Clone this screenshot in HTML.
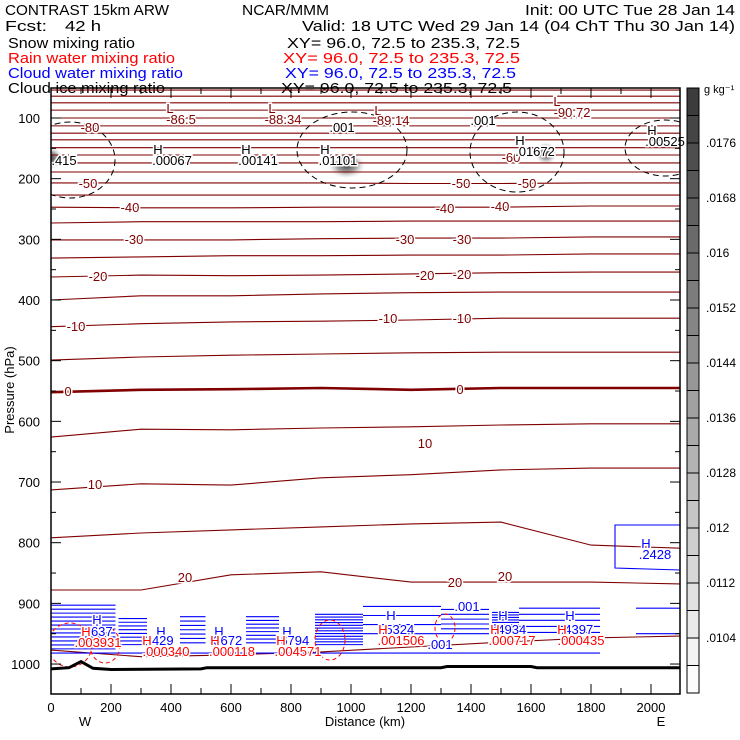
<!DOCTYPE html>
<html><head><meta charset="utf-8"><style>
html,body{margin:0;padding:0;background:#fff}
svg{display:block;font-family:"Liberation Sans",sans-serif}
#labels text{paint-order:stroke;stroke:#fff;stroke-width:3px}
</style></head><body>
<svg id="chart" width="740" height="740" viewBox="0 0 740 740">
<defs>
<radialGradient id="blob"><stop offset="0" stop-color="#333" stop-opacity="0.95"/><stop offset="0.5" stop-color="#666" stop-opacity="0.6"/><stop offset="1" stop-color="#fff" stop-opacity="0"/></radialGradient>
<clipPath id="plotclip"><rect x="51" y="88" width="629" height="606"/></clipPath>
</defs>
<g font-size="15">
<text x="5" y="15" textLength="164" lengthAdjust="spacingAndGlyphs">CONTRAST 15km ARW</text>
<text x="242" y="15" textLength="87" lengthAdjust="spacingAndGlyphs">NCAR/MMM</text>
<text x="525" y="15" textLength="210" lengthAdjust="spacingAndGlyphs">Init: 00 UTC Tue 28 Jan 14</text>
<text x="5" y="31" textLength="42" lengthAdjust="spacingAndGlyphs">Fcst:</text>
<text x="65" y="31" textLength="36" lengthAdjust="spacingAndGlyphs">42 h</text>
<text x="302" y="31" textLength="433" lengthAdjust="spacingAndGlyphs">Valid: 18 UTC Wed 29 Jan 14 (04 ChT Thu 30 Jan 14)</text>
<text x="8" y="48" textLength="127" lengthAdjust="spacingAndGlyphs">Snow mixing ratio</text>
<text x="287" y="48" textLength="233" lengthAdjust="spacingAndGlyphs">XY=  96.0, 72.5 to 235.3, 72.5</text>
<text x="8" y="63" textLength="167" lengthAdjust="spacingAndGlyphs" fill="#f00">Rain water mixing ratio</text>
<text x="283" y="63" textLength="237" lengthAdjust="spacingAndGlyphs" fill="#f00">XY=  96.0, 72.5 to 235.3, 72.5</text>
<text x="8" y="78" textLength="175" lengthAdjust="spacingAndGlyphs" fill="#00f">Cloud water mixing ratio</text>
<text x="285" y="78" textLength="231" lengthAdjust="spacingAndGlyphs" fill="#00f">XY=  96.0, 72.5 to 235.3, 72.5</text>
<text x="8" y="93" textLength="157" lengthAdjust="spacingAndGlyphs">Cloud ice mixing ratio</text>
<text x="281" y="93" textLength="231" lengthAdjust="spacingAndGlyphs">XY=  96.0, 72.5 to 235.3, 72.5</text>
</g>
<g id="plot" clip-path="url(#plotclip)"></g>
<g id="labels" font-size="13" text-anchor="middle"></g>
<g id="axes"></g>
<g id="cbar"></g>
</svg>
<script>
// ---- data ----
const xNodes = [0, 300, 600, 900, 1200, 1500, 1800, 2097];
const tempLevels = [25, 20, 15, 10, 5, 0, -5, -10, -15, -20, -25, -30, -35, -40, -45, -50];
const tempP = [
 [977,988,985,980,972,964,957,954],
 [878,878,853,848,865,865,865,868],
 [792,784,779,774,769,766,804,809],
 [713,703,705,693,688,680,677,677],
 [626,613,614,611,609,606,604,604],
 [552,548,547,545,548,545,545,545],
 [499,494,491,489,487,486,486,486],
 [444,439,436,435,433,430,430,430],
 [400,393,393,390,388,387,387,387],
 [362,359,360,359,357,355,354,354],
 [331,329,327,327,326,326,324,324],
 [301,301,301,299,298,298,296,296],
 [273,271,271,271,270,270,270,270],
 [247,248,248,247,247,247,245,245],
 [227,227,227,227,227,227,227,227],
 [207,207,207,207,208,208,207,207]
];
const stratP = [189,174,161,149,136,125,113,100,87,75,64,54];
const terrainKm = [0, 60, 100, 140, 200, 500, 520, 1300, 1320, 1600, 1620, 2097];
const terrainP = [1008, 1006, 996, 1007, 1009, 1008, 1006, 1006, 1004, 1004, 1006, 1006];
// cloud water blocks: start km, end km, top p, bottom p, number of lines
const cwStart = [0, 225, 430, 650, 880, 1040, 1300, 1470, 1560, 1950];
const cwEnd   = [215, 320, 515, 760, 1040, 1300, 1460, 1560, 1830, 2097];
const cwTop   = [903, 925, 922, 922, 918, 905, 910, 915, 908, 908];
const cwBot   = [975, 968, 965, 965, 968, 950, 950, 948, 948, 950];
const cwCount = [12, 8, 7, 8, 12, 4, 6, 9, 5, 2];
// snow maxima (km, hPa)
const snowKm = [0, 985, 1650];
const snowP = [166, 178, 158];
const cbarTicks = [".0176", ".0168", ".016", ".0152", ".0144", ".0136", ".0128", ".012", ".0112", ".0104"];
const pTicks = [100,200,300,400,500,600,700,800,900,1000];
const xTicks = [0,200,400,600,800,1000,1200,1400,1600,1800,2000];

// ---- scales ----
const X = km => 51 + km * 0.3;
const Y = p => 118 + (p - 100) * 0.6067;
const NS = "http://www.w3.org/2000/svg";
function mk(parent, tag, attrs, text){
  const e = document.createElementNS(NS, tag);
  for (const k in attrs) e.setAttribute(k, attrs[k]);
  if (text !== undefined) e.textContent = text;
  parent.appendChild(e); return e;
}
const plot = document.getElementById('plot');
const labels = document.getElementById('labels');
const axes = document.getElementById('axes');
const cbar = document.getElementById('cbar');

snowKm.forEach((k,i)=>{
  const e = mk(plot,'ellipse',{cx:X(k),cy:Y(snowP[i]),rx:k===985?20:12,ry:k===985?14:12,fill:'url(#blob)'});
  
  
});

tempLevels.forEach((lv,i)=>{
  const d = xNodes.map((k,j)=>(j?'L':'M')+X(k).toFixed(1)+','+Y(tempP[i][j]).toFixed(1)).join(' ');
  const e = mk(plot,'path',{d:d,fill:'none',stroke:'#800000','stroke-width':lv===0?2.6:1.1});
  
  
});
stratP.forEach(p=>{
  const e = mk(plot,'line',{x1:51,x2:680,y1:Y(p),y2:Y(p),stroke:'#800000','stroke-width':1.1});
  
  
});

cwStart.forEach((s,i)=>{
  const n = cwCount[i];
  for(let j=0;j<n;j++){
    const p = cwTop[i] + (cwBot[i]-cwTop[i]) * (n===1?0.5:j/(n-1));
    const e = mk(plot,'line',{x1:X(s),x2:X(cwEnd[i]),y1:Y(p),y2:Y(p),stroke:'#00f','stroke-width':1.1});
    
    
  }
});
{
  const e = mk(plot,'line',{x1:X(0),x2:X(1830),y1:Y(982),y2:Y(982),stroke:'#00f','stroke-width':1.1});
  
  
  const b = mk(plot,'path',{d:'M680,525 L615,525 L615,568 L680,570',fill:'none',stroke:'#00f','stroke-width':1.1});
  
  
}
[[70,160,45,38],[352,150,55,38],[517,152,47,40],[665,148,40,28]].forEach(c=>{
  const e = mk(plot,'ellipse',{cx:c[0],cy:c[1],rx:c[2],ry:c[3],fill:'none',stroke:'#000','stroke-dasharray':'6,4','stroke-width':1});
  
  
});
[[70,645,22,22],[105,645,15,18],[330,640,15,20],[445,628,10,14]].forEach(c=>{
  const e = mk(plot,'ellipse',{cx:c[0],cy:c[1],rx:c[2],ry:c[3],fill:'none',stroke:'#f00','stroke-dasharray':'4,3','stroke-width':1});
  
  
});
{
  const d = terrainKm.map((k,j)=>(j?'L':'M')+X(k).toFixed(1)+','+Y(terrainP[j]).toFixed(1)).join(' ');
  const e = mk(plot,'path',{d:d,fill:'none',stroke:'#000','stroke-width':3});
  
  
}

const lab = [
 ["-80",90,132,"#800000"],["-50",88,188,"#800000"],["-50",461,188,"#800000"],["-50",527,188,"#800000"],
 ["-40",130,212,"#800000"],["-40",445,213,"#800000"],["-40",500,211,"#800000"],
 ["-30",134,244,"#800000"],["-30",405,244,"#800000"],["-30",462,244,"#800000"],
 ["-20",98,281,"#800000"],["-20",425,280,"#800000"],["-20",462,279,"#800000"],
 ["-10",76,331,"#800000"],["-10",388,323,"#800000"],["-10",462,323,"#800000"],
 ["0",68,396,"#800000"],["0",460,394,"#800000"],["10",95,489,"#800000"],["10",425,448,"#800000"],
 ["20",185,582,"#800000"],["20",455,587,"#800000"],["20",505,581,"#800000"],["-60",511,162,"#800000"],
 ["L",170,113,"#800000"],["-86.5",181,124,"#800000"],["L",272,113,"#800000"],["-88.34",283,124,"#800000"],
 ["L",378,115,"#800000"],["-89.14",391,125,"#800000"],["L",557,106,"#800000"],["-90.72",572,117,"#800000"],
 ["H",158,154,"#000"],[".00067",172,165,"#000"],["H",246,154,"#000"],[".00141",258,165,"#000"],
 ["H",325,154,"#000"],[".01101",338,165,"#000"],["H",520,145,"#000"],[".01672",535,156,"#000"],
 ["H",652,135,"#000"],[".00525",665,146,"#000"],[".415",64,165,"#000"],[".001",342,132,"#000"],[".001",483,125,"#000"],
 ["H",97,624,"#00f"],[".637",100,636,"#00f"],["H",161,636,"#00f"],[".429",161,645,"#00f"],
 ["H",219,636,"#00f"],[".3672",226,645,"#00f"],["H",287,636,"#00f"],[".6794",293,645,"#00f"],
 ["H",391,620,"#00f"],[".5324",398,634,"#00f"],["H",503,620,"#00f"],[".4934",510,634,"#00f"],
 ["H",570,620,"#00f"],[".4397",577,634,"#00f"],[".001",467,611,"#00f"],[".001",440,649,"#00f"],
 ["H",646,548,"#00f"],[".2428",655,559,"#00f"],
 ["H",86,636,"#f00"],[".003931",98,647,"#f00"],["H",147,645,"#f00"],[".000340",166,656,"#f00"],
 ["H",215,645,"#f00"],[".000118",232,656,"#f00"],["H",281,645,"#f00"],[".004571",298,656,"#f00"],
 ["H",383,634,"#f00"],[".001506",401,645,"#f00"],["H",495,634,"#f00"],[".000717",512,645,"#f00"],
 ["H",562,634,"#f00"],[".000435",581,645,"#f00"]
];
lab.forEach(l=>{
  const t = mk(labels,'text',{x:l[1],y:l[2],fill:l[3]},l[0]);
  
  
});

{
  const f = mk(axes,'rect',{x:51,y:88,width:629,height:606,fill:'none',stroke:'#000','stroke-width':1.5});
  
  
}
for(let p=50;p<=1050;p+=50){
  const y=Y(p); if(y<88||y>694) continue;
  const len = p%100===0?10:5;
  mk(axes,'line',{x1:51,x2:51+len,y1:y,y2:y,stroke:'#000'});
  mk(axes,'line',{x1:680,x2:680-len,y1:y,y2:y,stroke:'#000'});
}
pTicks.forEach(p=>{
  const t = mk(axes,'text',{x:40,y:Y(p)+5,'text-anchor':'end','font-size':13},String(p));
  
  
});
for(let k=0;k<=2097;k+=50){
  const len = k%200===0?10:(k%100===0?6:0);
  if(!len) continue;
  mk(axes,'line',{x1:X(k),x2:X(k),y1:694,y2:694-len,stroke:'#000'});
  mk(axes,'line',{x1:X(k),x2:X(k),y1:88,y2:88+len,stroke:'#000'});
}
xTicks.forEach(k=>{
  const t = mk(axes,'text',{x:X(k),y:712,'text-anchor':'middle','font-size':13},String(k));
  
  
});
{
  let t = mk(axes,'text',{x:85,y:726,'text-anchor':'middle','font-size':13},'W');
   
  t = mk(axes,'text',{x:661,y:726,'text-anchor':'middle','font-size':13},'E');
   
  t = mk(axes,'text',{x:365,y:726,'text-anchor':'middle','font-size':13},'Distance (km)');
   
  t = mk(axes,'text',{x:0,y:0,'text-anchor':'middle','font-size':13,transform:'translate(14,390) rotate(-90)'},'Pressure (hPa)');
   
}
{
  const n=22, top=88, bot=693, h=(bot-top)/n;
  for(let i=0;i<n;i++){
    const g = Math.round(60 + (252-60)*i/(n-1));
    const r = mk(cbar,'rect',{x:687,y:top+i*h,width:12,height:h,fill:`rgb(${g},${g},${g})`,stroke:'#000','stroke-width':1});
    
    
  }
  cbarTicks.forEach((s,i)=>{
    const t = mk(cbar,'text',{x:706,y:147+i*55,'font-size':12},s);
    
    
  });
  const u = mk(cbar,'text',{x:704,y:93,'font-size':11},'g kg⁻¹');
  
  
}
</script>
</body></html>
